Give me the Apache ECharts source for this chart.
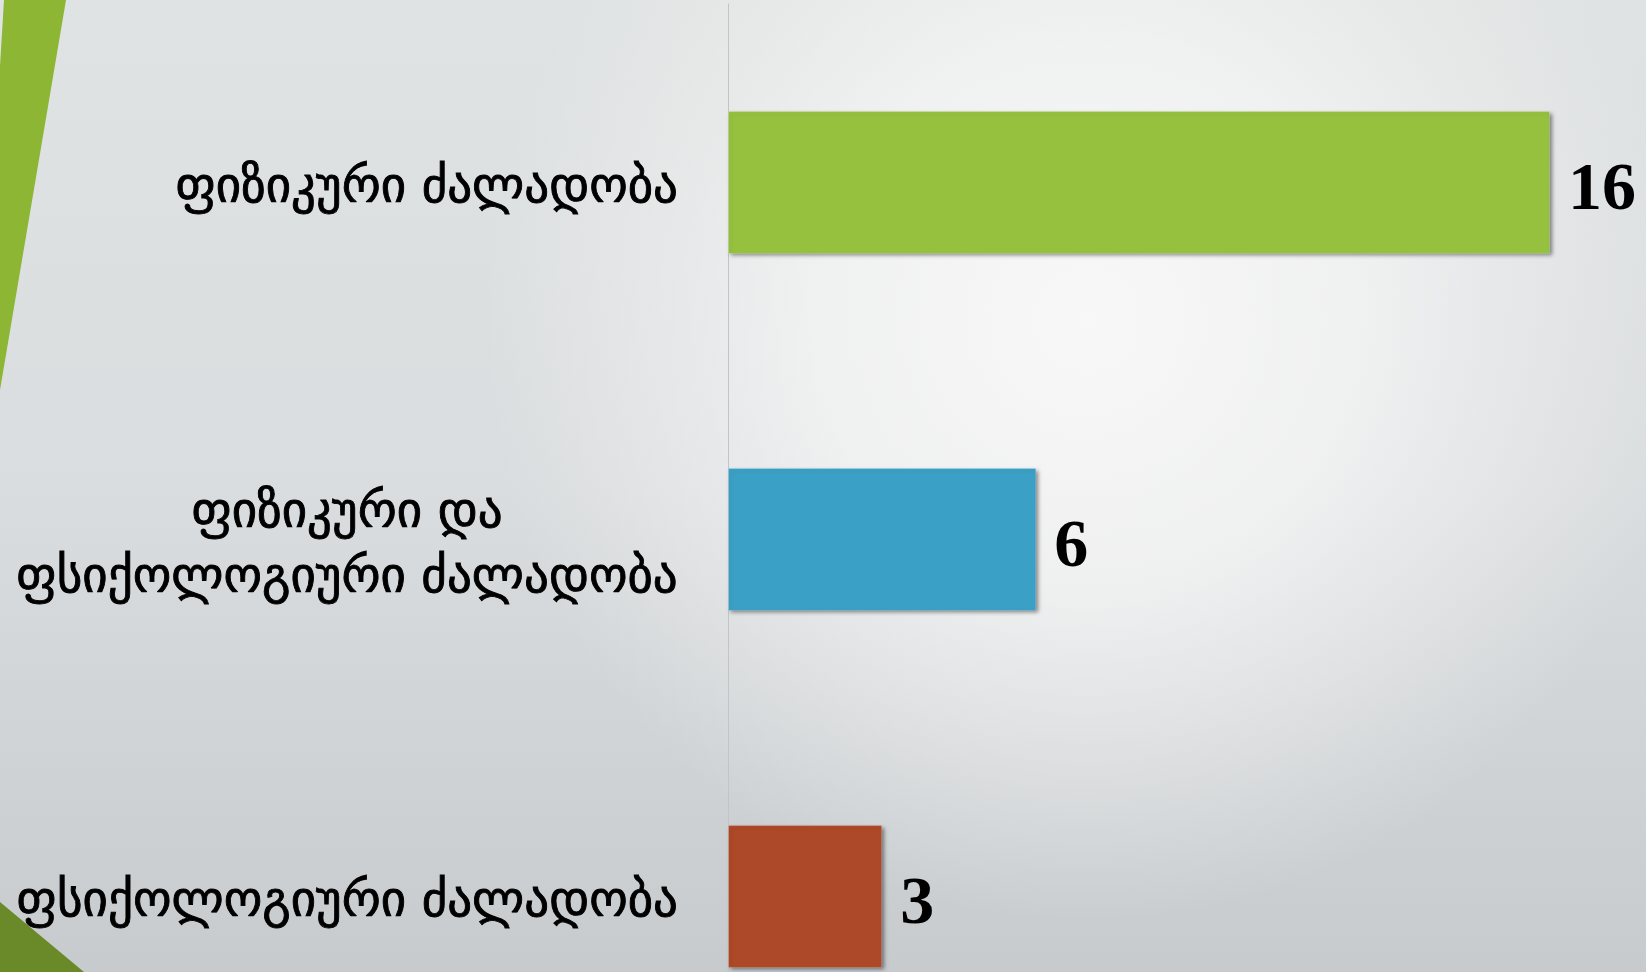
<!DOCTYPE html>
<html>
<head>
<meta charset="utf-8">
<script src="https://cdn.jsdelivr.net/npm/echarts@6/dist/echarts.min.js"></script>
<style>
html,body{margin:0;padding:0;width:1646px;height:972px;overflow:hidden;}
#c{width:1646px;height:972px;}
</style>
</head>
<body>
<div id="c"></div>
<script>
var categories = ['ფიზიკური ძალადობა', 'ფიზიკური და\nფსიქოლოგიური ძალადობა', 'ფსიქოლოგიური ძალადობა'];
var values = [16, 6, 3];
var barColors = ['#96c13e', '#3aa0c5', '#ad4828'];

var labelFont = 'DejaVu Sans';
var targetWidth = 665;
var cv = document.createElement('canvas').getContext('2d');
cv.font = '40px "' + labelFont + '"';
var longest = 'ფსიქოლოგიური ძალადობა';
var labelSize = Math.round(40 * targetWidth / cv.measureText(longest).width);
cv.font = labelSize + 'px "' + labelFont + '"';
var blockW = Math.ceil(cv.measureText(longest).width);

var chart = echarts.init(document.getElementById('c'));
chart.setOption({
  backgroundColor: {
    type: 'linear', x: 0, y: 0, x2: 0, y2: 1,
    colorStops: [
      {offset: 0, color: '#e0e3e3'},
      {offset: 0.5, color: '#dadddf'},
      {offset: 1, color: '#c7cbce'}
    ]
  },
  graphic: [
    {type: 'rect', z: -10, silent: true, shape: {x: 0, y: 0, width: 1646, height: 972},
      style: {fill: {type: 'radial', x: 0.66, y: 0.33, r: 0.62, colorStops: [
        {offset: 0, color: 'rgba(248,248,248,1)'},
        {offset: 0.45, color: 'rgba(245,245,245,0.8)'},
        {offset: 1, color: 'rgba(240,240,240,0)'}
      ]}}},
    {type: 'polygon', z: 1, shape: {points: [[4, 0], [66, 0], [0, 390], [0, 66]]}, style: {fill: '#8db634'}, silent: true},
    {type: 'polygon', z: 1, shape: {points: [[0, 902], [84, 972], [0, 972]]}, style: {fill: '#6a8a2a'}, silent: true}
  ],
  grid: {left: 728, top: 4, height: 1071, right: 96, containLabel: false, outerBoundsMode: 'none'},
  xAxis: {
    type: 'value', min: 0, max: 16,
    show: false
  },
  yAxis: {
    type: 'category', data: categories, inverse: true,
    axisLine: {show: true, lineStyle: {color: '#c4c4c4', width: 1}},
    axisTick: {show: false},
    axisLabel: {
      margin: 50, color: '#000', fontFamily: labelFont, fontSize: labelSize,
      lineHeight: 65, padding: [14, 0, 0, 0],
      textBorderColor: '#000', textBorderWidth: 0.9,
      formatter: function (v) {
        if (v.indexOf('\n') >= 0) {
          return v.split('\n').map(function (s) { return '{c|' + s + '}'; }).join('\n');
        }
        return v;
      },
      rich: {
        c: {width: blockW, align: 'center', fontFamily: labelFont, fontSize: labelSize, lineHeight: 65, color: '#000',
            textBorderColor: '#000', textBorderWidth: 0.9}
      }
    }
  },
  series: [{
    type: 'bar',
    data: values.map(function (v, i) { return {value: v, itemStyle: {color: barColors[i]}}; }),
    barCategoryGap: '60%',
    itemStyle: {
      shadowColor: 'rgba(0,0,0,0.45)', shadowBlur: 4, shadowOffsetX: 2, shadowOffsetY: 2,
      borderColor: 'rgba(255,255,255,0.2)', borderWidth: 1
    },
    label: {
      show: true, position: 'right', distance: 18, offset: [0, 9],
      color: '#000', fontFamily: 'Liberation Serif', fontWeight: 'bold', fontSize: 68
    },
    animation: false
  }],
  animation: false
});
</script>
</body>
</html>
